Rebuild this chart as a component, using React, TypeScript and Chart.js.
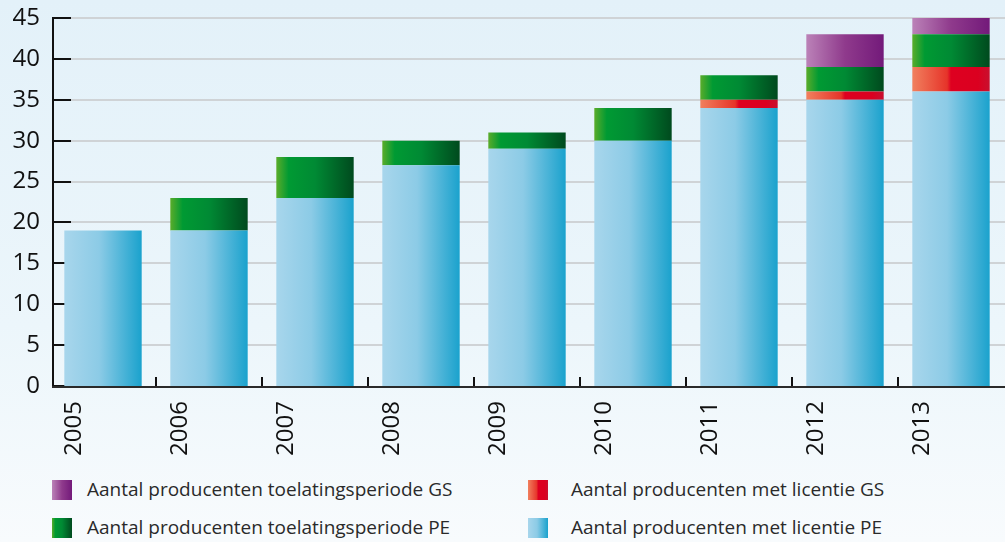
import React, { useEffect, useRef } from "react";
import { Chart, registerables } from "chart.js";

Chart.register(...registerables);

const years = ["2005", "2006", "2007", "2008", "2009", "2010", "2011", "2012", "2013"];
const licentiePE = [19, 19, 23, 27, 29, 30, 34, 35, 36];
const licentieGS = [0, 0, 0, 0, 0, 0, 1, 1, 3];
const toelatingPE = [0, 4, 5, 3, 2, 4, 3, 3, 4];
const toelatingGS = [0, 0, 0, 0, 0, 0, 0, 4, 2];
const yMax = 45;
const yStep = 5;

const seriesNames = [
  "Aantal producenten met licentie PE",
  "Aantal producenten met licentie GS",
  "Aantal producenten toelatingsperiode PE",
  "Aantal producenten toelatingsperiode GS",
];

const gradStops: [number, string][][] = [
  [[0, "#a8d6ec"], [0.45, "#8ccbe6"], [1, "#1aa2cd"]],
  [[0, "#f1805e"], [0.45, "#e6342a"], [0.5, "#de0020"], [0.85, "#db0020"], [1, "#c8102e"]],
  [[0, "#5aac2a"], [0.16, "#009a33"], [0.5, "#008a34"], [1, "#004a1e"]],
  [[0, "#bb82b8"], [0.5, "#8f3a8c"], [1, "#731a7a"]],
];
const fallback = ["#6bbbe0", "#de0020", "#008a34", "#8f3a8c"];

const BAR_FRAC = 0.73;

function cssGrad(stops: [number, string][]) {
  return "linear-gradient(to right, " + stops.map(([p, c]) => `${c} ${p * 100}%`).join(", ") + ")";
}

const axesPlugin = {
  id: "customAxes",
  beforeDatasetsDraw(chart: any) {
    const { ctx, scales, chartArea } = chart;
    const ys = scales.y;
    const xs = scales.x;
    ctx.save();
    for (let v = 0; v <= yMax; v += yStep) {
      const y = Math.round(ys.getPixelForValue(v));
      if (v > 0) {
        ctx.strokeStyle = "#cfd3d6";
        ctx.lineWidth = 2;
        ctx.beginPath();
        ctx.moveTo(71, y);
        ctx.lineTo(chart.width, y);
        ctx.stroke();
      }
      ctx.strokeStyle = "#111";
      ctx.lineWidth = 2;
      ctx.beginPath();
      ctx.moveTo(53, y);
      ctx.lineTo(71, y);
      ctx.stroke();
    }
    ctx.strokeStyle = "#111";
    ctx.lineWidth = 2;
    ctx.beginPath();
    ctx.moveTo(53, Math.round(ys.getPixelForValue(yMax)) - 1);
    ctx.lineTo(53, chartArea.bottom + 1);
    ctx.stroke();
    for (let i = 1; i < years.length; i++) {
      const x = Math.round((xs.getPixelForValue(i - 1) + xs.getPixelForValue(i)) / 2);
      ctx.lineWidth = 2;
      ctx.beginPath();
      ctx.moveTo(x, chartArea.bottom - 9);
      ctx.lineTo(x, chartArea.bottom);
      ctx.stroke();
    }
    ctx.restore();
  },
  afterDatasetsDraw(chart: any) {
    const { ctx, chartArea } = chart;
    ctx.save();
    ctx.strokeStyle = "#2a2a2a";
    ctx.lineWidth = 2;
    ctx.beginPath();
    ctx.moveTo(52, chartArea.bottom + 1);
    ctx.lineTo(chart.width, chartArea.bottom + 1);
    ctx.stroke();
    ctx.restore();
  },
};

function makeBg(idx: number) {
  return (c: any) => {
    const chart = c.chart;
    const xs = chart.scales && chart.scales.x;
    if (!xs || !chart.chartArea || c.dataIndex === undefined) return fallback[idx];
    const center = xs.getPixelForValue(c.dataIndex);
    const w = (xs.width / years.length) * BAR_FRAC;
    const g = chart.ctx.createLinearGradient(center - w / 2, 0, center + w / 2, 0);
    for (const [p, col] of gradStops[idx]) g.addColorStop(p, col);
    return g;
  };
}

export default function App() {
  const ref = useRef<HTMLCanvasElement>(null);
  useEffect(() => {
    if (!ref.current) return;
    const toNull = (a: number[]) => a.map((v) => (v === 0 ? null : v));
    const series = [licentiePE, licentieGS, toelatingPE, toelatingGS];
    const chart = new Chart(ref.current, {
      type: "bar",
      data: {
        labels: years,
        datasets: series.map((d, i) => ({
          label: seriesNames[i],
          data: toNull(d) as any,
          backgroundColor: makeBg(i) as any,
          borderWidth: 0,
          categoryPercentage: 1,
          barPercentage: BAR_FRAC,
        })),
      },
      options: {
        responsive: false,
        animation: false,
        devicePixelRatio: 1,
        layout: { padding: { top: 18, left: 0, right: 36, bottom: 0 } },
        plugins: { legend: { display: false }, tooltip: { enabled: false } },
        scales: {
          x: {
            stacked: true,
            grid: { display: false },
            border: { display: false },
            afterFit: (s: any) => {
              s.height = 84;
            },
            ticks: {
              autoSkip: false,
              minRotation: 90,
              maxRotation: 90,
              labelOffset: -29,
              padding: 7,
              color: "#111",
              font: { family: "'Open Sans'", size: 24 },
            },
          },
          y: {
            stacked: true,
            min: 0,
            max: yMax,
            grid: { display: false, drawTicks: false },
            border: { display: false },
            afterFit: (s: any) => {
              s.width = 50;
              s.paddingTop = 0;
              s.paddingBottom = 0;
            },
            ticks: {
              stepSize: yStep,
              padding: 10,
              color: "#111",
              font: { family: "'Open Sans'", size: 24 },
            },
          },
        },
      },
      plugins: [axesPlugin],
    });
    return () => chart.destroy();
  }, []);

  const legendItems = [
    { name: seriesNames[3], idx: 3, left: 52, top: 480 },
    { name: seriesNames[2], idx: 2, left: 52, top: 518 },
    { name: seriesNames[1], idx: 1, left: 528, top: 480 },
    { name: seriesNames[0], idx: 0, left: 528, top: 518 },
  ];

  return (
    <div
      style={{
        position: "fixed",
        left: 0,
        top: 0,
        width: 1005,
        height: 542,
        overflow: "hidden",
        background: "linear-gradient(to bottom, #e3f1f9 0%, #ecf6fb 60%, #f8fbfd 100%)",
        fontFamily: "'Open Sans', sans-serif",
      }}
    >
      <canvas ref={ref} width={1040} height={470} style={{ display: "block", position: "absolute", left: 0, top: 0 }} />
      {legendItems.map((it) => (
        <React.Fragment key={it.name}>
          <div
            style={{
              position: "absolute",
              left: it.left,
              top: it.top,
              width: 20,
              height: 20,
              background: cssGrad(gradStops[it.idx]),
            }}
          />
          <div
            style={{
              position: "absolute",
              left: it.left + 35 + (it.left > 100 ? 8 : 0),
              top: it.top - 4,
              fontSize: 19,
              lineHeight: "26px",
              color: "#2a2a2a",
              whiteSpace: "nowrap",
            }}
          >
            {it.name}
          </div>
        </React.Fragment>
      ))}
    </div>
  );
}
